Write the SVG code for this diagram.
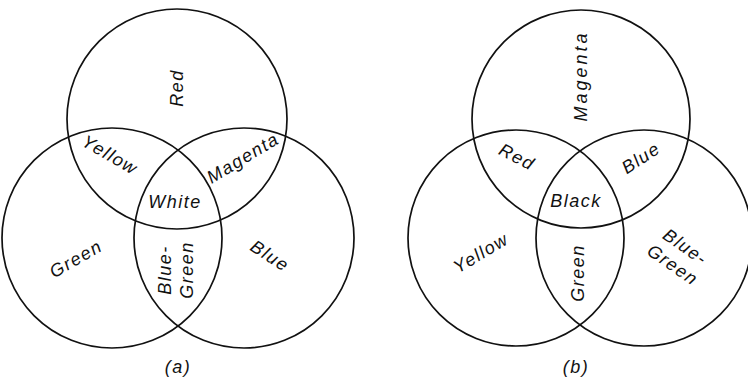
<svg xmlns="http://www.w3.org/2000/svg" width="748" height="380" viewBox="0 0 748 380">
<style>
.c{fill:none;stroke:#111;stroke-width:1.7}
.t{font-family:"Liberation Sans",Arial,sans-serif;font-style:italic;font-size:18px;letter-spacing:1.5px;fill:#111;text-anchor:middle;dominant-baseline:central}
</style>
<rect width="748" height="380" fill="#fff"/>
<g id="diagram-a">
<g id="a-circles">
<circle id="a-top" class="c" cx="177" cy="119" r="110"/>
<circle id="a-left" class="c" cx="112" cy="238" r="110"/>
<circle id="a-right" class="c" cx="244" cy="238" r="110"/>
</g>
<g id="a-labels">
<text class="t" transform="translate(177,88) rotate(-90)">Red</text>
<text class="t" transform="translate(110,155) rotate(30)">Yellow</text>
<text class="t" transform="translate(243,158) rotate(-31)">Magenta</text>
<text class="t" transform="translate(175,202)">White</text>
<text class="t" transform="translate(76,259) rotate(-30)">Green</text>
<text class="t" transform="translate(270,256) rotate(33)">Blue</text>
<text class="t" transform="translate(176,270) rotate(-90)"><tspan x="0" y="-11">Blue-</tspan><tspan x="0" y="11">Green</tspan></text>
<text class="t" transform="translate(178,367)">(a)</text>
</g>
</g>
<g id="diagram-b">
<g id="b-circles">
<circle id="b-top" class="c" cx="581" cy="119" r="109"/>
<circle id="b-left" class="c" cx="516" cy="238" r="108"/>
<circle id="b-right" class="c" cx="644" cy="238" r="108"/>
</g>
<g id="b-labels">
<text class="t" transform="translate(581,76) rotate(-90)" style="letter-spacing:3px">Magenta</text>
<text class="t" transform="translate(517,157) rotate(27)">Red</text>
<text class="t" transform="translate(641,158) rotate(-33)">Blue</text>
<text class="t" transform="translate(576,201)">Black</text>
<text class="t" transform="translate(481,253) rotate(-31)">Yellow</text>
<text class="t" transform="translate(578,273) rotate(-90)">Green</text>
<text class="t" transform="translate(679,256) rotate(35)"><tspan x="0" y="-11">Blue-</tspan><tspan x="0" y="11">Green</tspan></text>
<text class="t" transform="translate(576,367)">(b)</text>
</g>
</g>
</svg>
